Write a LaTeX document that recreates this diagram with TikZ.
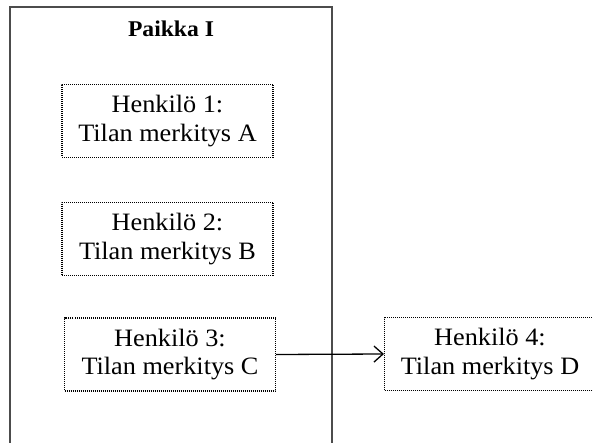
\documentclass[tikz,border=0pt]{standalone}
\usepackage{fontspec}
\setmainfont{Liberation Serif}[FakeStretch=1.05]
\usetikzlibrary{arrows.meta}
\begin{document}
\begin{tikzpicture}[x=1pt,y=-1pt,
  frame/.style={draw=black!70,line width=1.4pt},
  person/.style={draw=black,line width=1.1pt,dash pattern=on 1pt off 1pt,
    minimum width=211pt,minimum height=73pt,align=center,inner sep=0pt,
    font=\fontsize{25}{28.5}\selectfont},
  link/.style={draw=black,line width=1.3pt,-{Straight Barb[length=9pt,width=16pt,line width=1.3pt]}}]
\useasboundingbox (0,0) rectangle (593,443);
\clip (0,0) rectangle (593,443);
\fill[white] (0,0) rectangle (593,443);
% the place frame, open at the bottom
\draw[frame] (10,460) -- (10,7) -- (332,7) -- (332,460);
\node[font=\fontsize{22.5}{25}\bfseries\selectfont] (title) at (171,29) {Paikka I};
% persons and their meanings of the space
\node[person] (a) at (167.5,121) {Henkilö 1:\\Tilan merkitys A};
\node[person] (b) at (167.5,239) {Henkilö 2:\\Tilan merkitys B};
\node[person] (c) at (170,354.5) {Henkilö 3:\\Tilan merkitys C};
\node[person] (d) at (490,354) {Henkilö 4:\\Tilan merkitys D};
\draw[link] (c.east) -- (d.west);
\end{tikzpicture}
\end{document}
